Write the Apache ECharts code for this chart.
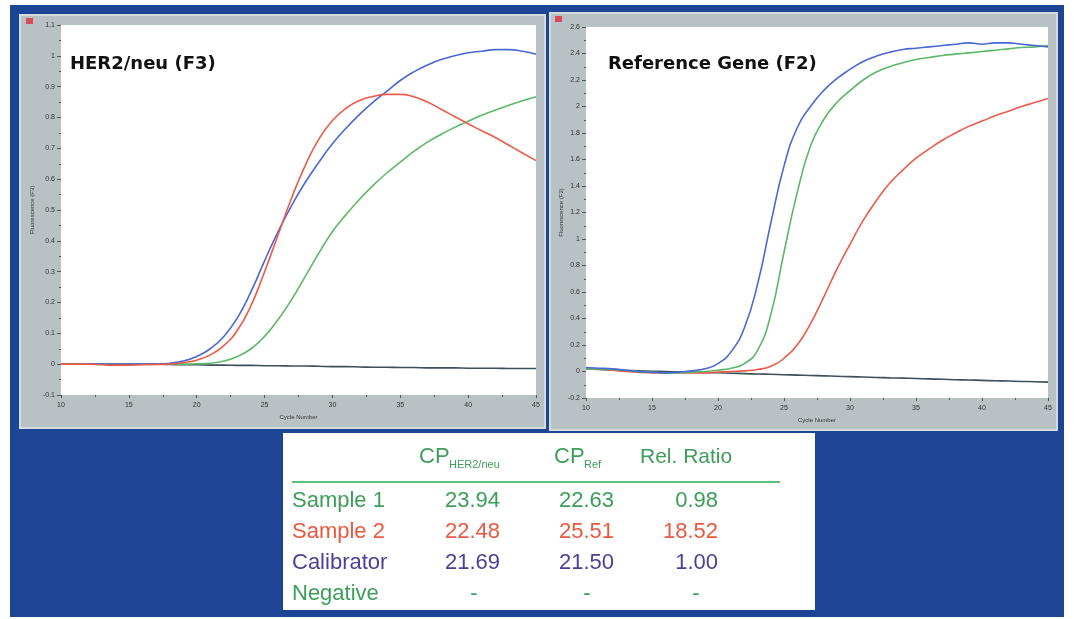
<!DOCTYPE html>
<html>
<head>
<meta charset="utf-8">
<title>HER2/neu real-time PCR</title>
<script src="https://cdn.jsdelivr.net/npm/echarts/dist/echarts.min.js"></script>
<style>
  html, body { margin: 0; padding: 0; background: #fff; }
  #pcr { width: 1074px; height: 619px; }
</style>
</head>
<body>
<div id="pcr"></div>
<script>
  // cycle numbers (x)
  var cycles = [10, 11, 12, 13, 14, 15, 16, 17, 18, 19, 20, 21, 22, 23, 24, 25, 26, 27,
                28, 29, 30, 31, 32, 33, 34, 35, 36, 37, 38, 39, 40, 41, 42, 43, 44, 45];

  // HER2/neu (F3) fluorescence
  var herCalibrator = [0, 0, 0, 0, 0, 0, 0, 0, 0.003, 0.01, 0.025, 0.05, 0.09, 0.15, 0.235, 0.335, 0.43, 0.515,
                       0.59, 0.655, 0.715, 0.765, 0.81, 0.85, 0.885, 0.92, 0.948, 0.97, 0.988, 1.0, 1.01, 1.015, 1.02, 1.02, 1.015, 1.005];
  var herSample2 = [0, 0, 0, -0.002, -0.003, -0.003, -0.002, -0.001, 0, 0.005, 0.013, 0.03, 0.06, 0.11, 0.19, 0.30, 0.42, 0.54,
                    0.645, 0.73, 0.79, 0.83, 0.855, 0.868, 0.875, 0.875, 0.867, 0.85, 0.827, 0.803, 0.78, 0.757, 0.735, 0.71, 0.685, 0.66];
  var herSample1 = [0, 0, 0, 0, 0, 0, 0, 0, 0, 0, 0.001, 0.003, 0.01, 0.025, 0.05, 0.09, 0.145, 0.21,
                    0.285, 0.36, 0.43, 0.485, 0.535, 0.58, 0.62, 0.655, 0.69, 0.72, 0.745, 0.768, 0.788, 0.807, 0.824, 0.84, 0.854, 0.867];
  var herNegative = [0, 0, 0, 0, 0, 0, 0, 0, -0.001, -0.002, -0.002, -0.003, -0.003, -0.004, -0.004, -0.005, -0.005, -0.006,
                     -0.006, -0.007, -0.008, -0.008, -0.009, -0.010, -0.010, -0.011, -0.011, -0.012, -0.012, -0.012, -0.013, -0.013, -0.013, -0.014, -0.014, -0.014];

  // Reference gene (F2) fluorescence
  var refCalibrator = [0.03, 0.025, 0.02, 0.01, 0, -0.005, -0.01, -0.005, 0.005, 0.02, 0.06, 0.15, 0.33, 0.66, 1.12, 1.55, 1.84, 2.0,
                       2.12, 2.21, 2.28, 2.34, 2.38, 2.41, 2.43, 2.44, 2.45, 2.46, 2.47, 2.48, 2.47, 2.48, 2.48, 2.47, 2.46, 2.45];
  var refSample1 = [0.02, 0.02, 0.015, 0.01, 0, -0.005, -0.01, -0.01, -0.005, 0, 0.01, 0.025, 0.06, 0.16, 0.43, 0.9, 1.35, 1.7,
                    1.9, 2.03, 2.12, 2.2, 2.26, 2.3, 2.33, 2.355, 2.37, 2.385, 2.395, 2.405, 2.415, 2.425, 2.435, 2.445, 2.45, 2.46];
  var refSample2 = [0.02, 0.02, 0.01, 0, -0.005, -0.01, -0.01, -0.01, -0.01, -0.01, -0.005, 0, 0.005, 0.015, 0.04, 0.1, 0.2, 0.36,
                    0.56, 0.77, 0.96, 1.14, 1.29, 1.42, 1.52, 1.61, 1.68, 1.745, 1.80, 1.85, 1.89, 1.93, 1.965, 2.0, 2.03, 2.06];
  var refNegative = [0.02, 0.015, 0.01, 0.008, 0.005, 0.002, 0, -0.003, -0.006, -0.008, -0.01, -0.013, -0.016, -0.019, -0.021, -0.024, -0.027, -0.03,
                     -0.033, -0.036, -0.039, -0.042, -0.045, -0.048, -0.05, -0.053, -0.056, -0.059, -0.062, -0.064, -0.067, -0.07, -0.072, -0.075, -0.077, -0.08];

  // result table
  var tableRows = ['Sample 1', 'Sample 2', 'Calibrator', 'Negative'];
  var cpHer2 = ['23.94', '22.48', '21.69', '-'];
  var cpRef = ['22.63', '25.51', '21.50', '-'];
  var relRatio = ['0.98', '18.52', '1.00', '-'];

  var GREEN = '#5bb866', RED = '#ec5a48', BLUE = '#4a68d2', DARK = '#3c4f5c';
  var rowColor = { 'Sample 1': '#3d9d5a', 'Sample 2': '#ea5840', 'Calibrator': '#4b3f99', 'Negative': '#3d9d5a' };

  function pairs(vals) {
    return cycles.map(function (c, i) { return [c, vals[i]]; });
  }

  function curve(name, gi, vals, color) {
    return {
      name: name, type: 'line', xAxisIndex: gi, yAxisIndex: gi,
      data: pairs(vals), smooth: true, showSymbol: false,
      lineStyle: { color: color, width: 1.6 }, z: 3
    };
  }

  var tickStyle = { color: '#333', fontSize: 7, fontFamily: 'Liberation Sans' };

  function xAxis(gi) {
    return {
      gridIndex: gi, type: 'value', min: 10, max: 45, interval: 5,
      name: 'Cycle Number', nameLocation: 'middle', nameGap: 19,
      nameTextStyle: { fontSize: 6, color: '#333', fontFamily: 'Liberation Sans' },
      axisLine: { show: false, onZero: false },
      axisTick: { show: true, length: 3, lineStyle: { color: '#555' } },
      minorTick: { show: true, splitNumber: 2, length: 2, lineStyle: { color: '#555' } },
      axisLabel: Object.assign({ margin: 7 }, tickStyle),
      splitLine: { show: false }
    };
  }

  function yAxis(gi, min, max, step, name, gap) {
    return {
      gridIndex: gi, type: 'value', min: min, max: max, interval: step,
      name: name, nameLocation: 'middle', nameGap: gap,
      nameTextStyle: { fontSize: 6, color: '#333', fontFamily: 'Liberation Sans' },
      axisLine: { show: false, onZero: false },
      axisTick: { show: true, length: 4, lineStyle: { color: '#555' } },
      minorTick: { show: true, splitNumber: 2, length: 2, lineStyle: { color: '#555' } },
      axisLabel: Object.assign({ margin: 6 }, tickStyle),
      splitLine: { show: false }
    };
  }

  // table graphics
  var hdr = { fill: '#3d9d5a', fontFamily: 'Liberation Sans', textVerticalAlign: 'middle' };
  var tableEls = [
    { type: 'rect', shape: { x: 283, y: 433, width: 532, height: 177 }, style: { fill: '#fff' }, z: -5 },
    { type: 'line', shape: { x1: 292, y1: 482, x2: 780, y2: 482 }, style: { stroke: '#5cbf7a', lineWidth: 2 }, z: 5 },
    { type: 'text', x: 419, y: 457, style: Object.assign({ text: 'CP', fontSize: 22 }, hdr), z: 5 },
    { type: 'text', x: 449, y: 465, style: Object.assign({ text: 'HER2/neu', fontSize: 11 }, hdr), z: 5 },
    { type: 'text', x: 554, y: 457, style: Object.assign({ text: 'CP', fontSize: 22 }, hdr), z: 5 },
    { type: 'text', x: 584, y: 465, style: Object.assign({ text: 'Ref', fontSize: 11 }, hdr), z: 5 },
    { type: 'text', x: 640, y: 457, style: Object.assign({ text: 'Rel. Ratio', fontSize: 21 }, hdr), z: 5 }
  ];
  tableRows.forEach(function (label, i) {
    var y = 501 + i * 31;
    var col = rowColor[label];
    var cells = [[label, 292, 'left'], [cpHer2[i], 500, 474], [cpRef[i], 614, 587], [relRatio[i], 718, 696]];
    cells.forEach(function (c) {
      var isDash = c[0] === '-';
      tableEls.push({
        type: 'text', x: isDash ? c[2] : c[1], y: y, z: 5,
        style: {
          text: c[0], fontSize: 22, fill: col, fontFamily: 'Liberation Sans',
          textAlign: isDash ? 'center' : (c[2] === 'left' ? 'left' : 'right'), textVerticalAlign: 'middle'
        }
      });
    });
  });

  var frameEls = [
    { type: 'rect', shape: { x: 10, y: 5, width: 1054, height: 612 }, style: { fill: '#1d4596' }, z: -20 },
    { type: 'rect', shape: { x: 20, y: 15, width: 525, height: 413 }, style: { fill: '#b8c1c3', stroke: '#d6dcdd', lineWidth: 2 }, z: -10 },
    { type: 'rect', shape: { x: 550, y: 13, width: 507, height: 417 }, style: { fill: '#b8c1c3', stroke: '#d6dcdd', lineWidth: 2 }, z: -10 },
    { type: 'rect', shape: { x: 26, y: 18, width: 7, height: 6 }, style: { fill: '#d84a5a' }, z: 5 },
    { type: 'rect', shape: { x: 555, y: 16, width: 7, height: 6 }, style: { fill: '#d84a5a' }, z: 5 }
  ];

  var option = {
    backgroundColor: '#fff',
    animation: false,
    title: [
      { text: 'HER2/neu (F3)', left: 70, top: 55, padding: 0,
        textStyle: { fontSize: 18, fontWeight: 'bold', color: '#111', fontFamily: 'DejaVu Sans' } },
      { text: 'Reference Gene (F2)', left: 608, top: 55, padding: 0,
        textStyle: { fontSize: 18, fontWeight: 'bold', color: '#111', fontFamily: 'DejaVu Sans' } }
    ],
    graphic: frameEls.concat(tableEls),
    grid: [
      { left: 61, top: 25, width: 475, height: 370, show: true, backgroundColor: '#fff', borderWidth: 0 },
      { left: 586, top: 27, width: 462, height: 371, show: true, backgroundColor: '#fff', borderWidth: 0 }
    ],
    xAxis: [xAxis(0), xAxis(1)],
    yAxis: [
      yAxis(0, -0.1, 1.1, 0.1, 'Fluorescence (F3)', 26),
      yAxis(1, -0.2, 2.6, 0.2, 'Fluorescence (F2)', 21)
    ],
    series: [
      curve('Negative', 0, herNegative, DARK),
      curve('Sample 1', 0, herSample1, GREEN),
      curve('Calibrator', 0, herCalibrator, BLUE),
      curve('Sample 2', 0, herSample2, RED),
      curve('Negative', 1, refNegative, DARK),
      curve('Sample 2', 1, refSample2, RED),
      curve('Sample 1', 1, refSample1, GREEN),
      curve('Calibrator', 1, refCalibrator, BLUE)
    ]
  };

  var chart = echarts.init(document.getElementById('pcr'));
  chart.setOption(option);
</script>
</body>
</html>
